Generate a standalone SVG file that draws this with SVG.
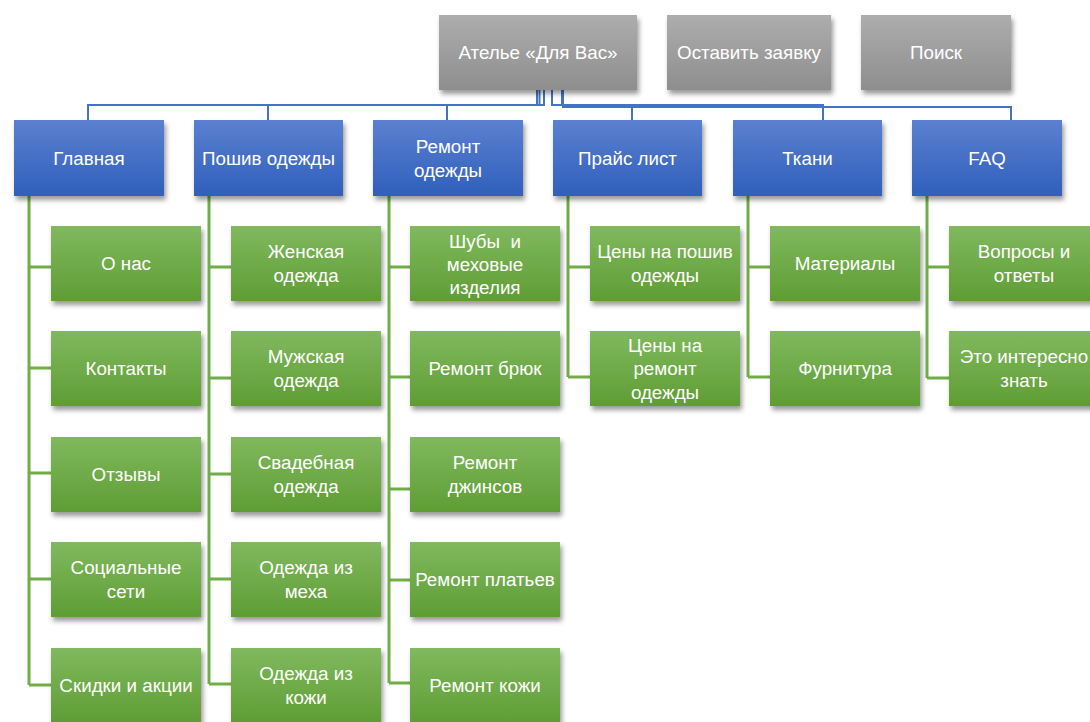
<svg xmlns="http://www.w3.org/2000/svg" width="1090" height="722" viewBox="0 0 1090 722">
  <defs>
    <linearGradient id="gGray" x1="0" y1="0" x2="0" y2="1">
      <stop offset="0" stop-color="#adadad"/>
      <stop offset="1" stop-color="#8e8e8e"/>
    </linearGradient>
    <linearGradient id="gBlue" x1="0" y1="0" x2="0" y2="1">
      <stop offset="0" stop-color="#5b80d0"/>
      <stop offset="1" stop-color="#2f5fbb"/>
    </linearGradient>
    <linearGradient id="gGreen" x1="0" y1="0" x2="0" y2="1">
      <stop offset="0" stop-color="#80b95e"/>
      <stop offset="1" stop-color="#5f9d34"/>
    </linearGradient>
    <filter id="shadow" x="-10%" y="-10%" width="130%" height="140%">
      <feDropShadow dx="2" dy="4" stdDeviation="2.5" flood-color="#000" flood-opacity="0.4"/>
    </filter>
  </defs>
  <style>
    .gray { fill: url(#gGray); filter: url(#shadow); }
    .blue { fill: url(#gBlue); filter: url(#shadow); }
    .green { fill: url(#gGreen); filter: url(#shadow); }
    text { font-family: "Liberation Sans", Arial, sans-serif; font-size: 18.8px; fill: #ffffff; text-anchor: middle; dominant-baseline: central; }
    .cb { fill: none; stroke: #4472c4; stroke-width: 2; }
    .cg { fill: none; stroke: #70ad47; stroke-width: 3; }
  </style>

  <!-- connectors -->
  <g id="connectors">
    <path class="cb" d="M537 90 V105 H88 V120"/>
    <path class="cb" d="M539.5 90 V105 H268 V120"/>
    <path class="cb" d="M544 90 V105 H447 V120"/>
    <path class="cb" d="M552 90 V105 H632 V120"/>
    <path class="cb" d="M562 90 V105 H823 V120"/>
    <path class="cb" d="M563 90 V107 H1011 V120"/>

    <path class="cg" d="M29 196 V685 M29 267 H51 M29 368 H51 M29 473 H51 M29 579 H51 M29 685 H51"/>
    <path class="cg" d="M209 196 V684 M209 267 H231 M209 378 H231 M209 474 H231 M209 579 H231 M209 684 H231"/>
    <path class="cg" d="M389 196 V683 M389 267 H410 M389 377 H410 M389 489 H410 M389 580 H410 M389 683 H410"/>
    <path class="cg" d="M568 196 V377 M568 267 H590 M568 377 H590"/>
    <path class="cg" d="M748 196 V377 M748 267 H770 M748 377 H770"/>
    <path class="cg" d="M927 196 V378 M927 267 H949 M927 378 H949"/>
  </g>

  <!-- top row -->
  <g id="n-atelier"><rect class="gray" x="439" y="15" width="198" height="75"/><text x="538" y="52.5">Ателье «Для Вас»</text></g>
  <g id="n-request"><rect class="gray" x="667" y="15" width="164" height="75"/><text x="749" y="52.5">Оставить заявку</text></g>
  <g id="n-search"><rect class="gray" x="861" y="15" width="150" height="75"/><text x="936" y="52.5">Поиск</text></g>

  <!-- sections -->
  <g id="n-main"><rect class="blue" x="14" y="120" width="150" height="76"/><text x="89" y="158">Главная</text></g>
  <g id="n-sewing"><rect class="blue" x="194" y="120" width="149" height="76"/><text x="268.5" y="158">Пошив одежды</text></g>
  <g id="n-repair"><rect class="blue" x="373" y="120" width="150" height="76"/><text x="448" y="146.5">Ремонт</text><text x="448" y="170">одежды</text></g>
  <g id="n-prices"><rect class="blue" x="553" y="120" width="149" height="76"/><text x="627.5" y="158">Прайс лист</text></g>
  <g id="n-fabrics"><rect class="blue" x="733" y="120" width="149" height="76"/><text x="807.5" y="158">Ткани</text></g>
  <g id="n-faq"><rect class="blue" x="912" y="120" width="150" height="76"/><text x="987" y="158">FAQ</text></g>

  <!-- Главная -->
  <g id="n-about"><rect class="green" x="51" y="226" width="150" height="75"/><text x="126" y="263.5">О нас</text></g>
  <g id="n-contacts"><rect class="green" x="51" y="331" width="150" height="75"/><text x="126" y="368.5">Контакты</text></g>
  <g id="n-reviews"><rect class="green" x="51" y="437" width="150" height="75"/><text x="126" y="474">Отзывы</text></g>
  <g id="n-social"><rect class="green" x="51" y="542" width="150" height="75"/><text x="126" y="567.5">Социальные</text><text x="126" y="591.5">сети</text></g>
  <g id="n-sales"><rect class="green" x="51" y="648" width="150" height="75"/><text x="126" y="685">Скидки и акции</text></g>

  <!-- Пошив одежды -->
  <g id="n-women"><rect class="green" x="231" y="226" width="150" height="75"/><text x="306" y="251.5">Женская</text><text x="306" y="275.5">одежда</text></g>
  <g id="n-men"><rect class="green" x="231" y="331" width="150" height="75"/><text x="306" y="356.5">Мужская</text><text x="306" y="380.5">одежда</text></g>
  <g id="n-wedding"><rect class="green" x="231" y="437" width="150" height="75"/><text x="306" y="462">Свадебная</text><text x="306" y="486">одежда</text></g>
  <g id="n-fur"><rect class="green" x="231" y="542" width="150" height="75"/><text x="306" y="567.5">Одежда из</text><text x="306" y="591.5">меха</text></g>
  <g id="n-leather"><rect class="green" x="231" y="648" width="150" height="75"/><text x="306" y="673">Одежда из</text><text x="306" y="697">кожи</text></g>

  <!-- Ремонт одежды -->
  <g id="n-furcoats"><rect class="green" x="410" y="226" width="150" height="75"/><text x="485" y="241">Шубы&#160; и</text><text x="485" y="264">меховые</text><text x="485" y="287">изделия</text></g>
  <g id="n-trousers"><rect class="green" x="410" y="331" width="150" height="75"/><text x="485" y="368.5">Ремонт брюк</text></g>
  <g id="n-jeans"><rect class="green" x="410" y="437" width="150" height="75"/><text x="485" y="462">Ремонт</text><text x="485" y="486">джинсов</text></g>
  <g id="n-dresses"><rect class="green" x="410" y="542" width="150" height="75"/><text x="485" y="579.5">Ремонт платьев</text></g>
  <g id="n-leather-repair"><rect class="green" x="410" y="648" width="150" height="75"/><text x="485" y="685">Ремонт кожи</text></g>

  <!-- Прайс лист -->
  <g id="n-price-sewing"><rect class="green" x="590" y="226" width="150" height="75"/><text x="665" y="251.5">Цены на пошив</text><text x="665" y="275.5">одежды</text></g>
  <g id="n-price-repair"><rect class="green" x="590" y="331" width="150" height="75"/><text x="665" y="345">Цены на</text><text x="665" y="368.5">ремонт</text><text x="665" y="392">одежды</text></g>

  <!-- Ткани -->
  <g id="n-materials"><rect class="green" x="770" y="226" width="150" height="75"/><text x="845" y="263.5">Материалы</text></g>
  <g id="n-hardware"><rect class="green" x="770" y="331" width="150" height="75"/><text x="845" y="368.5">Фурнитура</text></g>

  <!-- FAQ -->
  <g id="n-qa"><rect class="green" x="949" y="226" width="150" height="75"/><text x="1024" y="251.5">Вопросы и</text><text x="1024" y="275.5">ответы</text></g>
  <g id="n-interesting"><rect class="green" x="949" y="331" width="150" height="75"/><text x="1024" y="356.5">Это интересно</text><text x="1024" y="380.5">знать</text></g>
</svg>
